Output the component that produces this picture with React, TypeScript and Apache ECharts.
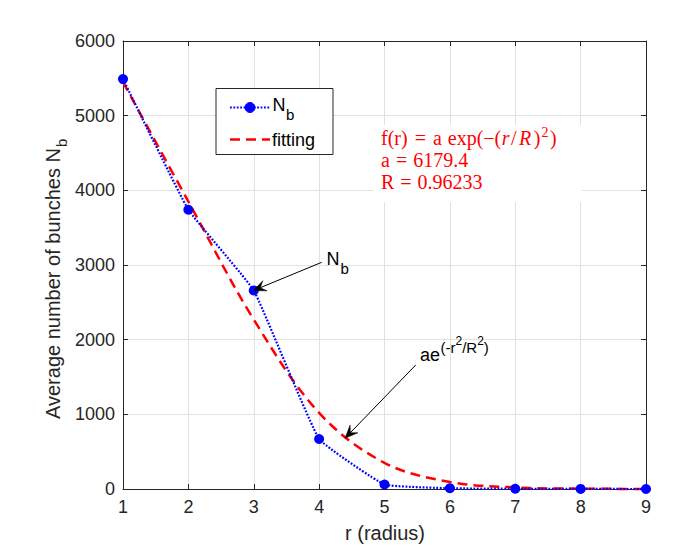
import React, { useEffect, useRef } from "react";
import * as echarts from "echarts";

// ---- data ----
const radius = [1, 2, 3, 4, 5, 6, 7, 8, 9];
const bunches = [5490, 3740, 2660, 670, 60, 10, 3, 1, 0];
const fitting = [5450, 3850, 2270, 1020, 350, 94, 22, 4, 1];
const xTitle = "r (radius)";
const yTitle = "Average number of bunches N";
const subB = "b";
const legendFit = "fitting";
const fitLine2 = "a = 6179.4";
const fitLine3 = "R = 0.96233";

const SANS = "Liberation Sans, Arial, Helvetica, sans-serif";
const SERIF = "Liberation Serif, Times New Roman, serif";
const INK = "#262626";
const BLUE = "#0000ff";
const RED = "#ff0000";

let measureCtx: CanvasRenderingContext2D | null = null;
function tw(text: string, size: number, family: string, italic = false) {
  if (!measureCtx) measureCtx = document.createElement("canvas").getContext("2d");
  const fam = family.split(",")[0].trim();
  measureCtx!.font = `${italic ? "italic " : ""}${size}px "${fam}"`;
  return measureCtx!.measureText(text).width;
}

type Seg = { t: string; s: number; dy?: number; it?: boolean; gap?: number };

function seq(x: number, baseline: number, segs: Seg[], color: string, family: string, z = 30) {
  const els: any[] = [];
  let cx = x;
  for (const g of segs) {
    const dy = g.dy || 0;
    els.push({
      type: "text",
      x: cx,
      y: baseline + dy - 0.35 * g.s,
      z,
      style: {
        text: g.t,
        fontSize: g.s,
        fontFamily: family,
        fontStyle: g.it ? "italic" : "normal",
        fill: color,
        align: "left",
        verticalAlign: "middle",
        textAlign: "left",
        textVerticalAlign: "middle",
      },
    });
    cx += tw(g.t, g.s, family, g.it) + (g.gap || 0);
  }
  return els;
}

function arrow(x1: number, y1: number, x2: number, y2: number) {
  const dx = x2 - x1;
  const dy = y2 - y1;
  const len = Math.sqrt(dx * dx + dy * dy);
  const ux = dx / len;
  const uy = dy / len;
  const nx = -uy;
  const ny = ux;
  const L = 13;
  const W = 5.5;
  return [
    {
      type: "line",
      z: 30,
      shape: { x1, y1, x2: x2 - ux * 6, y2: y2 - uy * 6 },
      style: { stroke: "#000", lineWidth: 1 },
    },
    {
      type: "polygon",
      z: 31,
      shape: {
        points: [
          [x2, y2],
          [x2 - ux * L + nx * W, y2 - uy * L + ny * W],
          [x2 - ux * L * 0.6, y2 - uy * L * 0.6],
          [x2 - ux * L - nx * W, y2 - uy * L - ny * W],
        ],
      },
      style: { fill: "#000", stroke: "#000", lineWidth: 0.5 },
    },
  ];
}

export default function App() {
  const ref = useRef<HTMLDivElement>(null);

  useEffect(() => {
    document.body.style.margin = "0";
    const chart = echarts.init(ref.current!, null, { renderer: "svg" });

    const axisCommon: any = {
      type: "value",
      axisLine: { show: true, onZero: false, lineStyle: { color: INK, width: 1 } },
      axisTick: { show: true, inside: true, length: 5, lineStyle: { color: INK, width: 1 } },
    };
    const labelStyle = { fontSize: 18, color: INK, fontFamily: SANS, formatter: (v: number) => String(v) };
    const split = { show: true, lineStyle: { color: "#e1e1e1", width: 1 } };

    // y-axis title (rotated) with subscript
    const yMainW = tw(yTitle, 20, SANS);
    const yTitleGroup = {
      type: "group",
      x: 59.5,
      y: 419,
      rotation: Math.PI / 2,
      z: 30,
      children: [
        {
          type: "text",
          x: 0,
          y: -7,
          z: 30,
          style: {
            text: yTitle,
            fontSize: 20,
            fontFamily: SANS,
            fill: INK,
            align: "left",
            verticalAlign: "middle",
            textAlign: "left",
            textVerticalAlign: "middle",
          },
        },
        {
          type: "text",
          x: yMainW + 1,
          y: 7 - 0.35 * 15,
          z: 30,
          style: {
            text: subB,
            fontSize: 15,
            fontFamily: SANS,
            fill: INK,
            align: "left",
            verticalAlign: "middle",
            textAlign: "left",
            textVerticalAlign: "middle",
          },
        },
      ],
    };

    const graphic: any[] = [
      yTitleGroup,
      {
        type: "text",
        x: 385,
        y: 532.5,
        z: 30,
        style: {
          text: xTitle,
          fontSize: 20,
          fontFamily: SANS,
          fill: INK,
          align: "center",
          verticalAlign: "middle",
          textAlign: "center",
          textVerticalAlign: "middle",
        },
      },
      // legend box
      {
        type: "rect",
        z: 20,
        shape: { x: 216, y: 88.5, width: 117, height: 66 },
        style: { fill: "#fff", stroke: INK, lineWidth: 1 },
      },
      {
        type: "line",
        z: 21,
        shape: { x1: 230, y1: 107.5, x2: 270, y2: 107.5 },
        style: { stroke: BLUE, lineWidth: 2.2, lineDash: [1.8, 1.6] },
      },
      {
        type: "circle",
        z: 22,
        shape: { cx: 250, cy: 107.5, r: 5 },
        style: { fill: BLUE, stroke: BLUE },
      },
      ...seq(272.5, 111.7, [{ t: "N", s: 18, gap: 0.5 }, { t: subB, s: 15, dy: 8.5 }], "#000", SANS, 22),
      {
        type: "line",
        z: 21,
        shape: { x1: 230, y1: 139.5, x2: 270, y2: 139.5 },
        style: { stroke: RED, lineWidth: 2.5, lineDash: [10, 6] },
      },
      ...seq(272, 146, [{ t: legendFit, s: 18 }], "#000", SANS, 22),
      // fit text box
      {
        type: "rect",
        z: 20,
        shape: { x: 373, y: 125, width: 209, height: 77 },
        style: { fill: "#fff", stroke: "none" },
      },
      ...seq(
        381,
        145,
        [
          { t: "f(r)", s: 20, gap: 7 },
          { t: "=", s: 20, gap: 7 },
          { t: "a", s: 20, gap: 6 },
          { t: "exp(−(", s: 20, gap: 0.5 },
          { t: "r", s: 20, it: true, gap: 1.5 },
          { t: "/", s: 20, gap: 2.5 },
          { t: "R", s: 20, it: true, gap: 2.5 },
          { t: ")", s: 20, gap: 1 },
          { t: "2", s: 14, dy: -8, gap: 1.5 },
          { t: ")", s: 20 },
        ],
        RED,
        SERIF
      ),
      ...seq(381, 167, [{ t: "a", s: 20, gap: 6 }, { t: "=", s: 20, gap: 6 }, { t: "6179.4", s: 20 }], RED, SERIF),
      ...seq(381, 188.5, [{ t: "R", s: 20, gap: 6 }, { t: "=", s: 20, gap: 6 }, { t: "0.96233", s: 20 }], RED, SERIF),
      // annotations
      ...seq(326.5, 265, [{ t: "N", s: 18, gap: 1 }, { t: subB, s: 15, dy: 8.3 }], "#000", SANS),
      ...arrow(321.7, 262.3, 253, 290.7),
      ...seq(
        420,
        361.7,
        [
          { t: "ae", s: 18, gap: 0.5 },
          { t: "(-r", s: 15 },
          { t: "2", s: 12, dy: -16.5 },
          { t: "/R", s: 15 },
          { t: "2", s: 12, dy: -16.5 },
          { t: ")", s: 15 },
        ].map((g, i) => (i === 0 ? g : { ...g, dy: g.dy !== undefined ? g.dy : -9 })),
        "#000",
        SANS
      ),
      ...arrow(415.7, 365, 345, 438.3),
    ];

    const option: any = {
      animation: false,
      backgroundColor: "#fff",
      grid: { left: 123, top: 41, width: 523, height: 448, containLabel: false },
      xAxis: [
        {
          ...axisCommon,
          position: "bottom",
          min: 1,
          max: 9,
          interval: 1,
          axisLabel: { ...labelStyle, margin: 9 },
          splitLine: split,
        },
        {
          ...axisCommon,
          position: "top",
          min: 1,
          max: 9,
          interval: 1,
          axisLabel: { show: false },
          splitLine: { show: false },
        },
      ],
      yAxis: [
        {
          ...axisCommon,
          position: "left",
          min: 0,
          max: 6000,
          interval: 1000,
          axisLabel: { ...labelStyle, margin: 8 },
          splitLine: split,
        },
        {
          ...axisCommon,
          position: "right",
          min: 0,
          max: 6000,
          interval: 1000,
          axisLabel: { show: false },
          splitLine: { show: false },
        },
      ],
      series: [
        {
          name: "fitting",
          type: "line",
          xAxisIndex: 0,
          yAxisIndex: 0,
          data: radius.map((r, i) => [r, fitting[i]]),
          smooth: 0.35,
          showSymbol: false,
          symbol: "none",
          clip: false,
          lineStyle: { color: RED, width: 2.5, type: [10, 6] },
          z: 3,
        },
        {
          name: "Nb",
          type: "line",
          xAxisIndex: 0,
          yAxisIndex: 0,
          data: radius.map((r, i) => [r, bunches[i]]),
          smooth: 0.1,
          symbol: "circle",
          symbolSize: 10,
          clip: false,
          itemStyle: { color: BLUE },
          lineStyle: { color: BLUE, width: 2.2, type: [1.8, 1.6] },
          z: 4,
        },
      ],
      graphic,
    };

    chart.setOption(option);
    return () => chart.dispose();
  }, []);

  return <div ref={ref} style={{ width: 689, height: 550 }} />;
}
